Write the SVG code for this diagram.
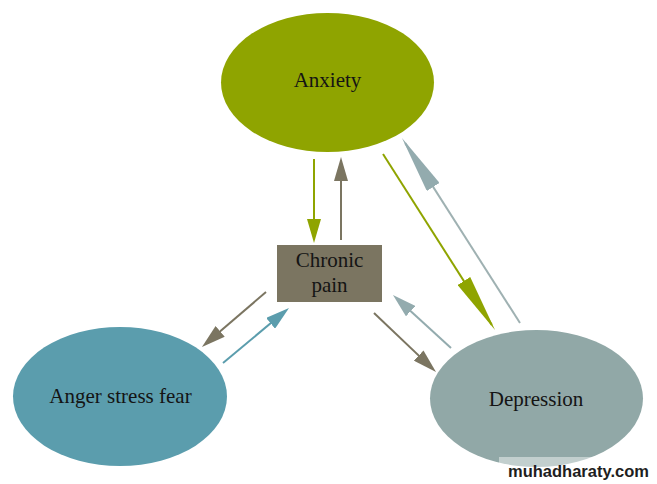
<svg xmlns="http://www.w3.org/2000/svg" width="657" height="484" viewBox="0 0 657 484">
<style>
.lbl{font-family:"Liberation Serif","Times New Roman",serif;font-size:21px;fill:#141414;text-anchor:middle}
.ln{fill:none;stroke-width:2}
.wm{font-family:"Liberation Sans",Arial,sans-serif;font-weight:bold;font-size:16.5px;fill:#1e1e1e}
</style>
<defs>
<marker id="sGreen" viewBox="0 0 24 14" refX="18" refY="7" markerWidth="24" markerHeight="14" markerUnits="userSpaceOnUse" orient="auto"><path d="M0,0L24,7L0,14z" fill="#8fa400"/></marker>
<marker id="sGray" viewBox="0 0 24 14" refX="18" refY="7" markerWidth="24" markerHeight="14" markerUnits="userSpaceOnUse" orient="auto"><path d="M0,0L24,7L0,14z" fill="#7b7561"/></marker>
<marker id="sTeal" viewBox="0 0 24 14" refX="18" refY="7" markerWidth="24" markerHeight="14" markerUnits="userSpaceOnUse" orient="auto"><path d="M0,0L24,7L0,14z" fill="#5b9dad"/></marker>
<marker id="sBlue" viewBox="0 0 24 14" refX="18" refY="7" markerWidth="24" markerHeight="14" markerUnits="userSpaceOnUse" orient="auto"><path d="M0,0L24,7L0,14z" fill="#93abae"/></marker>
<marker id="lGreen" viewBox="0 0 58 15" refX="52" refY="7.5" markerWidth="58" markerHeight="15" markerUnits="userSpaceOnUse" orient="auto"><path d="M0,0L58,7.5L0,15z" fill="#8fa400"/></marker>
<marker id="lBlue" viewBox="0 0 58 15" refX="52" refY="7.5" markerWidth="58" markerHeight="15" markerUnits="userSpaceOnUse" orient="auto"><path d="M0,0L58,7.5L0,15z" fill="#93abae"/></marker>
</defs>
<rect width="657" height="484" fill="#ffffff"/>
<g id="anxiety">
<ellipse cx="327.5" cy="82.5" rx="106.5" ry="69.5" fill="#8fa400"/>
<text class="lbl" x="327.5" y="87">Anxiety</text>
</g>
<g id="chronic-pain">
<rect x="277" y="245" width="105" height="57" fill="#7b7561"/>
<text class="lbl" x="329.5" y="267">Chronic</text>
<text class="lbl" x="329.5" y="292">pain</text>
</g>
<g id="anger">
<ellipse cx="120" cy="396.5" rx="107" ry="69.5" fill="#5b9dad"/>
<text class="lbl" x="120.5" y="403">Anger stress fear</text>
</g>
<g id="depression">
<ellipse cx="536.5" cy="398.5" rx="106.5" ry="68.5" fill="#91a8a7"/>
<text class="lbl" x="536" y="406">Depression</text>
</g>
<g id="connectors">
<line class="ln" x1="314" y1="159" x2="314" y2="237" stroke="#8fa400" marker-end="url(#sGreen)"/>
<line class="ln" x1="341" y1="240" x2="341" y2="163" stroke="#7b7561" marker-end="url(#sGray)"/>
<line class="ln" x1="383" y1="154" x2="491.8" y2="324.9" stroke="#8fa400" marker-end="url(#lGreen)"/>
<line class="ln" x1="520" y1="323" x2="405.2" y2="143.1" stroke="#9fb1b2" marker-end="url(#lBlue)"/>
<line class="ln" x1="266" y1="292" x2="206.5" y2="343.1" stroke="#7b7561" marker-end="url(#sGray)"/>
<line class="ln" x1="223" y1="363" x2="284.4" y2="311.8" stroke="#5b9dad" marker-end="url(#sTeal)"/>
<line class="ln" x1="374" y1="313" x2="431.7" y2="367.9" stroke="#7b7561" marker-end="url(#sGray)"/>
<line class="ln" x1="451" y1="348" x2="397.4" y2="299" stroke="#93abae" marker-end="url(#sBlue)"/>
</g>
<g id="watermark">
<rect x="499" y="457" width="158" height="27" fill="#ffffff" fill-opacity="0.45"/>
<text class="wm" x="508" y="477">muhadharaty.com</text>
</g>
</svg>
